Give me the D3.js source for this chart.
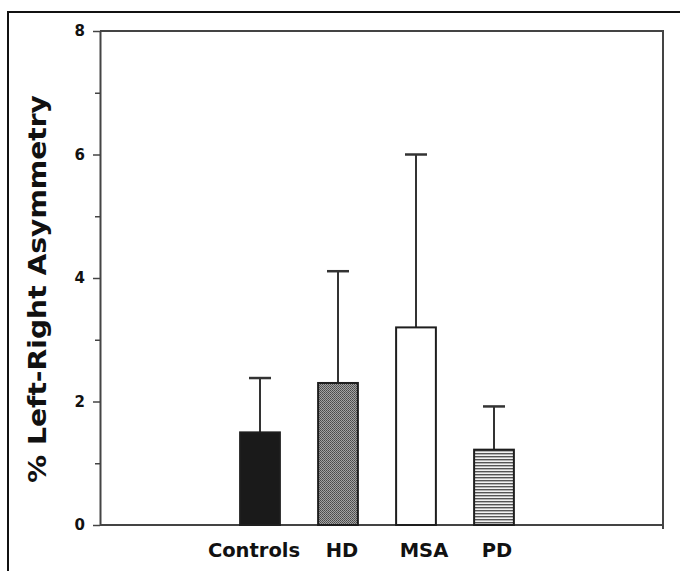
<!DOCTYPE html>
<html>
<head>
<meta charset="utf-8">
<script src="https://cdn.jsdelivr.net/npm/d3@7"></script>
<style>
  body { margin: 0; background: #fff; }
  svg text { font-family: "DejaVu Sans", "Liberation Sans", Arial, sans-serif; font-weight: bold; fill: #111; }
</style>
</head>
<body>
<div id="barChart"></div>
<script>
// values
var categories = ['Controls', 'HD', 'MSA', 'PD'];
var means = [1.5, 2.3, 3.2, 1.22];
var sds = [0.88, 1.81, 2.8, 0.7];
var majorTicks = [0, 2, 4, 6, 8];
var minorTicks = [1, 3, 5, 7];
var yTitle = '% Left-Right Asymmetry';

var width = 680, height = 571;
var plot = { left: 100, right: 663, top: 31, bottom: 525 };
var ink = '#1e1e1e';

var data = categories.map(function (c, i) {
  return { name: c, mean: means[i], sd: sds[i] };
});

var svg = d3.select('#barChart').append('svg')
  .attr('width', width)
  .attr('height', height);

// fills
var defs = svg.append('defs');
var dots = defs.append('pattern')
  .attr('id', 'dots')
  .attr('width', 2).attr('height', 2)
  .attr('patternUnits', 'userSpaceOnUse');
dots.append('rect').attr('width', 2).attr('height', 2).attr('fill', '#a4a4a4');
dots.append('rect').attr('width', 1).attr('height', 1).attr('fill', '#4a4a4a');
dots.append('rect').attr('x', 1).attr('y', 1).attr('width', 1).attr('height', 1).attr('fill', '#5a5a5a');

var stripes = defs.append('pattern')
  .attr('id', 'stripes')
  .attr('width', 4).attr('height', 3)
  .attr('patternUnits', 'userSpaceOnUse');
stripes.append('rect').attr('width', 4).attr('height', 3).attr('fill', '#f2f2f2');
stripes.append('rect').attr('width', 4).attr('height', 1.4).attr('fill', '#555');

var fills = ['#1a1a1a', 'url(#dots)', '#fff', 'url(#stripes)'];

// outer frame of the figure
svg.append('path')
  .attr('d', 'M8,' + height + 'V12H' + width)
  .attr('fill', 'none')
  .attr('stroke', '#111')
  .attr('stroke-width', 2);

var x = d3.scaleBand()
  .domain(categories)
  .range([221, 533])
  .paddingInner(0.49)
  .paddingOuter(0.245);

var y = d3.scaleLinear()
  .domain([0, 8])
  .range([plot.bottom, plot.top]);

// plot box (top and right)
svg.append('path')
  .attr('d', 'M' + plot.left + ',' + plot.top + 'H' + plot.right + 'V' + (plot.bottom + 4))
  .attr('fill', 'none')
  .attr('stroke', '#444')
  .attr('stroke-width', 2);

// baseline
svg.append('line')
  .attr('x1', plot.left).attr('x2', plot.right)
  .attr('y1', y(0)).attr('y2', y(0))
  .attr('stroke', '#444')
  .attr('stroke-width', 2);

// minor ticks
svg.append('g')
  .attr('transform', 'translate(' + plot.left + ',0)')
  .call(d3.axisLeft(y).tickValues(minorTicks).tickSize(5).tickFormat(''))
  .call(function (g) { g.select('.domain').remove(); })
  .selectAll('line').attr('stroke', '#444').attr('stroke-width', 1.5);

// major ticks + labels
var yAxis = svg.append('g')
  .attr('transform', 'translate(' + plot.left + ',0)')
  .call(d3.axisLeft(y).tickValues(majorTicks).tickSize(7).tickSizeOuter(0).tickPadding(8));
yAxis.select('.domain').attr('stroke', '#444').attr('stroke-width', 2);
yAxis.selectAll('line').attr('stroke', '#444').attr('stroke-width', 1.5);
yAxis.selectAll('text')
  .style('font-size', '15px')
  .style('font-weight', 'bold')
  .style('font-family', '"DejaVu Sans", sans-serif')
  .attr('fill', '#111');

// y title
svg.append('text')
  .attr('transform', 'translate(46,289) rotate(-90)')
  .attr('text-anchor', 'middle')
  .attr('textLength', 388)
  .attr('lengthAdjust', 'spacingAndGlyphs')
  .style('font-size', '25px')
  .text(yTitle);

// error bars
var err = svg.selectAll('.err')
  .data(data)
  .enter().append('g')
  .attr('class', 'err')
  .attr('stroke', '#333')
  .attr('stroke-width', 2);

err.append('line')
  .attr('x1', function (d) { return x(d.name) + x.bandwidth() / 2; })
  .attr('x2', function (d) { return x(d.name) + x.bandwidth() / 2; })
  .attr('y1', function (d) { return y(d.mean); })
  .attr('y2', function (d) { return y(d.mean + d.sd); });

err.append('line')
  .attr('x1', function (d) { return x(d.name) + x.bandwidth() / 2 - 11; })
  .attr('x2', function (d) { return x(d.name) + x.bandwidth() / 2 + 11; })
  .attr('y1', function (d) { return y(d.mean + d.sd); })
  .attr('y2', function (d) { return y(d.mean + d.sd); })
  .attr('stroke-width', 2.5);

// bars
svg.selectAll('.bar')
  .data(data)
  .enter().append('rect')
  .attr('class', 'bar')
  .attr('x', function (d) { return x(d.name); })
  .attr('width', x.bandwidth())
  .attr('y', function (d) { return y(d.mean); })
  .attr('height', function (d) { return y(0) - y(d.mean); })
  .attr('fill', function (d, i) { return fills[i]; })
  .attr('stroke', ink)
  .attr('stroke-width', 2);

// category labels (hand-nudged like the printed figure)
var nudge = [-6, 4, 8, 3];
svg.selectAll('.cat')
  .data(categories)
  .enter().append('text')
  .attr('class', 'cat')
  .attr('x', function (d, i) { return x(d) + x.bandwidth() / 2 + nudge[i]; })
  .attr('y', 557)
  .attr('text-anchor', 'middle')
  .style('font-size', '19.5px')
  .text(function (d) { return d; });
</script>
</body>
</html>
